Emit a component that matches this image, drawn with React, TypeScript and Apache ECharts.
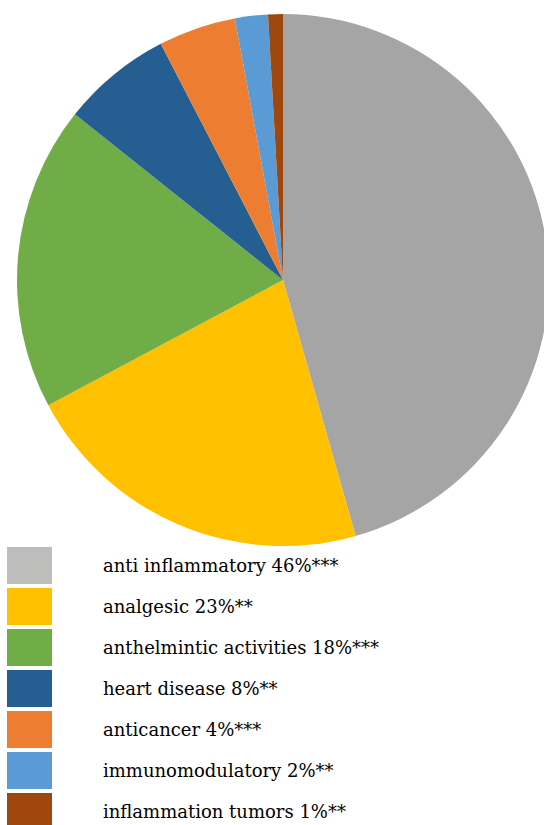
import React, { useEffect, useRef } from "react";
import * as echarts from "echarts";

const categories = [
  "anti inflammatory 46%***",
  "analgesic 23%**",
  "anthelmintic activities 18%***",
  "heart disease 8%**",
  "anticancer 4%***",
  "immunomodulatory 2%**",
  "inflammation tumors 1%**",
];
const values = [45.6, 21.6, 18.5, 6.7, 4.7, 2.0, 0.9];
const colors = ["#A5A5A5", "#FFC000", "#70AD47", "#255E91", "#ED7D31", "#5B9BD5", "#9E480E"];
const legendColors = ["#BDBDBB", "#FFC000", "#70AD47", "#255E91", "#ED7D31", "#5B9BD5", "#9E480E"];

export default function App() {
  const ref = useRef<HTMLDivElement>(null);
  useEffect(() => {
    if (!ref.current) return;
    const chart = echarts.init(ref.current, null, { renderer: "svg" });
    chart.setOption({
      animation: false,
      backgroundColor: "#ffffff",
      legend: {
        orient: "vertical",
        left: 7,
        top: 547,
        height: 290,
        padding: 0,
        itemWidth: 45,
        itemHeight: 37,
        itemGap: 4,
        icon: "rect",
        selectedMode: false,
        textStyle: {
          fontFamily: "DejaVu Serif",
          fontSize: 18,
          color: "#000",
          padding: [0, 0, 0, 46],
        },
        data: categories.map((c, i) => ({ name: c, itemStyle: { color: legendColors[i] } })),
      },
      series: [
        {
          type: "pie",
          center: [283, 280],
          radius: 266,
          startAngle: 90,
          clockwise: true,
          label: { show: false },
          labelLine: { show: false },
          silent: true,
          itemStyle: { borderWidth: 0 },
          data: categories.map((c, i) => ({ name: c, value: values[i], itemStyle: { color: colors[i] } })),
        },
      ],
    });
    return () => chart.dispose();
  }, []);
  return (
    <div
      ref={ref}
      style={{ position: "fixed", left: 0, top: 0, width: 544, height: 825 }}
    />
  );
}
